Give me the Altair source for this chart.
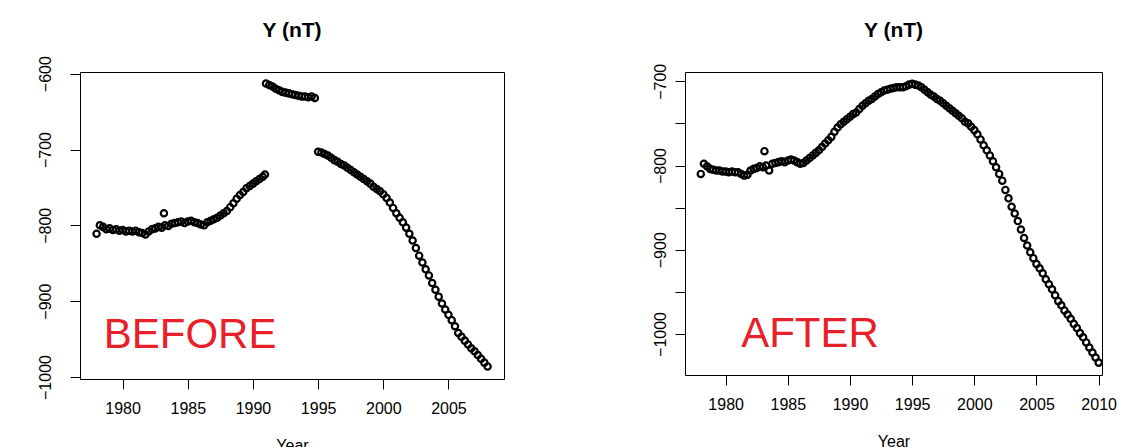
import altair as alt
import pandas as pd

# ---------------- data ----------------
before_year = [
    1978.00, 1978.25, 1978.50, 1978.75, 1979.00, 1979.25, 1979.50, 1979.75,
    1980.00, 1980.25, 1980.50, 1980.75, 1981.00, 1981.25, 1981.50, 1981.75,
    1982.00, 1982.25, 1982.50, 1982.75, 1983.00, 1983.17, 1983.25, 1983.50, 1983.75,
    1984.00, 1984.25, 1984.50, 1984.75, 1985.00, 1985.25, 1985.50, 1985.75,
    1986.00, 1986.25, 1986.50, 1986.75, 1987.00, 1987.25, 1987.50, 1987.75,
    1988.00, 1988.25, 1988.50, 1988.75, 1989.00, 1989.25, 1989.50, 1989.75,
    1990.00, 1990.25, 1990.50, 1990.75, 1990.92,
    1991.00, 1991.25, 1991.50, 1991.75, 1992.00, 1992.25, 1992.50, 1992.75,
    1993.00, 1993.25, 1993.50, 1993.75, 1994.00, 1994.25, 1994.50, 1994.75,
    1995.00, 1995.25, 1995.50, 1995.75, 1996.00, 1996.25, 1996.50, 1996.75,
    1997.00, 1997.25, 1997.50, 1997.75, 1998.00, 1998.25, 1998.50, 1998.75,
    1999.00, 1999.25, 1999.50, 1999.75, 2000.00, 2000.25, 2000.50, 2000.75,
    2001.00, 2001.25, 2001.50, 2001.75, 2002.00, 2002.25, 2002.50, 2002.75,
    2003.00, 2003.25, 2003.50, 2003.75, 2004.00, 2004.25, 2004.50, 2004.75,
    2005.00, 2005.25, 2005.50, 2005.75, 2006.00, 2006.25, 2006.50, 2006.75,
    2007.00, 2007.25, 2007.50, 2007.75, 2008.00,
]
before_y = [
    -811, -800, -802, -805, -804, -806, -805, -807,
    -806, -808, -807, -808, -807, -809, -810, -812,
    -808, -805, -804, -802, -803, -784, -800, -801, -798,
    -797, -796, -795, -797, -795, -794, -796, -797,
    -799, -800, -796, -794, -792, -790, -787, -784,
    -781, -776, -771, -765, -760, -756, -751, -748,
    -745, -742, -739, -736, -733,
    -613, -615, -617, -620, -622, -624, -625, -626,
    -627, -628, -629, -630, -630, -631, -630, -632,
    -703, -704, -706, -708, -711, -714, -716, -719,
    -721, -724, -727, -730, -733, -736, -739, -742,
    -745, -749, -752, -755, -759, -764, -770, -777,
    -784, -790, -796, -803, -811, -820, -830, -840,
    -849, -858, -866, -876, -885, -894, -903, -911,
    -918, -925, -933, -942, -947, -952, -957, -962,
    -966, -971, -976, -981, -986,
]

after_year = [
    1978.00, 1978.25, 1978.50, 1978.75, 1979.00, 1979.25, 1979.50, 1979.75,
    1980.00, 1980.25, 1980.50, 1980.75, 1981.00, 1981.25, 1981.50, 1981.75,
    1982.00, 1982.25, 1982.50, 1982.75, 1983.00, 1983.12, 1983.25, 1983.50, 1983.75,
    1984.00, 1984.25, 1984.50, 1984.75, 1985.00, 1985.25, 1985.50, 1985.75,
    1986.00, 1986.25, 1986.50, 1986.75, 1987.00, 1987.25, 1987.50, 1987.75,
    1988.00, 1988.25, 1988.50, 1988.75, 1989.00, 1989.25, 1989.50, 1989.75,
    1990.00, 1990.25, 1990.50, 1990.75, 1991.00, 1991.25, 1991.50, 1991.75,
    1992.00, 1992.25, 1992.50, 1992.75, 1993.00, 1993.25, 1993.50, 1993.75,
    1994.00, 1994.25, 1994.50, 1994.75, 1995.00, 1995.25, 1995.50, 1995.75,
    1996.00, 1996.25, 1996.50, 1996.75, 1997.00, 1997.25, 1997.50, 1997.75,
    1998.00, 1998.25, 1998.50, 1998.75, 1999.00, 1999.25, 1999.50, 1999.75,
    2000.00, 2000.25, 2000.50, 2000.75, 2001.00, 2001.25, 2001.50, 2001.75,
    2002.00, 2002.25, 2002.50, 2002.75, 2003.00, 2003.25, 2003.50, 2003.75,
    2004.00, 2004.25, 2004.50, 2004.75, 2005.00, 2005.25, 2005.50, 2005.75,
    2006.00, 2006.25, 2006.50, 2006.75, 2007.00, 2007.25, 2007.50, 2007.75,
    2008.00, 2008.25, 2008.50, 2008.75, 2009.00, 2009.25, 2009.50, 2009.75,
    2010.00,
]
after_y = [
    -810, -798, -801, -804, -805, -806, -806, -807,
    -807, -808, -807, -808, -808, -810, -812, -811,
    -806, -804, -803, -801, -802, -783, -800, -806, -798,
    -797, -796, -795, -796, -794, -793, -794, -796,
    -798, -797, -794, -791, -788, -785, -782, -778,
    -774, -770, -766, -760, -755, -751, -748, -745,
    -742, -739, -737, -733, -729, -726, -723, -721,
    -718, -715, -713, -711, -710, -709, -708, -707,
    -707, -707, -706, -704, -703, -704, -705, -707,
    -710, -713, -716, -718, -721, -723, -726, -729,
    -732, -735, -738, -741, -744, -748, -750, -754,
    -758, -763, -769, -776, -782, -788, -795, -802,
    -810, -818, -829, -839, -849, -857, -866, -876,
    -886, -895, -903, -910, -917, -922, -928, -935,
    -941, -947, -954, -961, -966, -972, -977, -982,
    -988, -993, -999, -1004, -1010, -1016, -1022, -1028,
    -1034,
]

before_xticks = [1980, 1985, 1990, 1995, 2000, 2005]
before_yticks = [-600, -700, -800, -900, -1000]
after_xticks = [1980, 1985, 1990, 1995, 2000, 2005, 2010]
after_yticks = [-700, -750, -800, -850, -900, -950, -1000]

panel_title = "Y (nT)"
x_title = "Year"
before_label = "BEFORE"
after_label = "AFTER"

FONT = "Liberation Sans"
RED = "#e8202a"


def panel(years, values, xdom, ydom, xticks, yticks, label, label_pos,
          width, height, title_offset, ylab_pad):
    df = pd.DataFrame({"year": years, "value": values})
    x = alt.X("year:Q", scale=alt.Scale(domain=xdom, nice=False, zero=False),
              axis=alt.Axis(values=xticks, format="d", title=x_title,
                            labelPadding=11, titlePadding=21))
    y = alt.Y("value:Q", scale=alt.Scale(domain=ydom, nice=False, zero=False),
              axis=alt.Axis(values=yticks, format="d", title=None,
                            labelAngle=270, labelAlign="center",
                            labelBaseline="bottom", labelPadding=ylab_pad,
                            labelExpr="datum.value % 100 == 0 ? datum.label : ''"))
    pts = alt.Chart(df).mark_point(
        shape="circle", filled=False, color="black", size=40, strokeWidth=2.2,
        opacity=1
    ).encode(x=x, y=y)
    lab = pd.DataFrame({"label": [label], "lx": [label_pos[0]], "ly": [label_pos[1]]})
    txt = alt.Chart(lab).mark_text(
        color=RED, fontSize=42, font=FONT, fontWeight="normal", align="left",
        baseline="alphabetic"
    ).encode(x="lx:Q", y="ly:Q", text="label:N")
    return alt.layer(pts, txt).properties(
        width=width, height=height,
        title=alt.TitleParams(panel_title, offset=title_offset, fontSize=21,
                              font=FONT, fontWeight="bold", color="black",
                              anchor="middle"),
    )


left = panel(before_year, before_y, [1976.73, 2009.26], [-1002.6, -597.8],
             before_xticks, before_yticks, before_label, (1978.55, -962),
             424, 307, 15, 17)
right = panel(after_year, after_y, [1976.73, 2010.27], [-1048.7, -689.0],
              after_xticks, after_yticks, after_label, (1981.25, -1016),
              417, 303, 22, 7)

chart = alt.hconcat(left, right, spacing=146).configure(
    padding={"left": 28, "top": 11, "right": 5, "bottom": 5},
    font=FONT,
).configure_view(
    stroke="black", strokeWidth=1
).configure_axis(
    domain=False, grid=False, tickColor="black", tickSize=10, tickWidth=1,
    labelColor="black", labelFontSize=16, labelFont=FONT,
    titleColor="black", titleFontSize=16, titleFont=FONT,
    titleFontWeight="normal",
)

chart.save("out.html", embed_options={"renderer": "svg", "actions": False})
